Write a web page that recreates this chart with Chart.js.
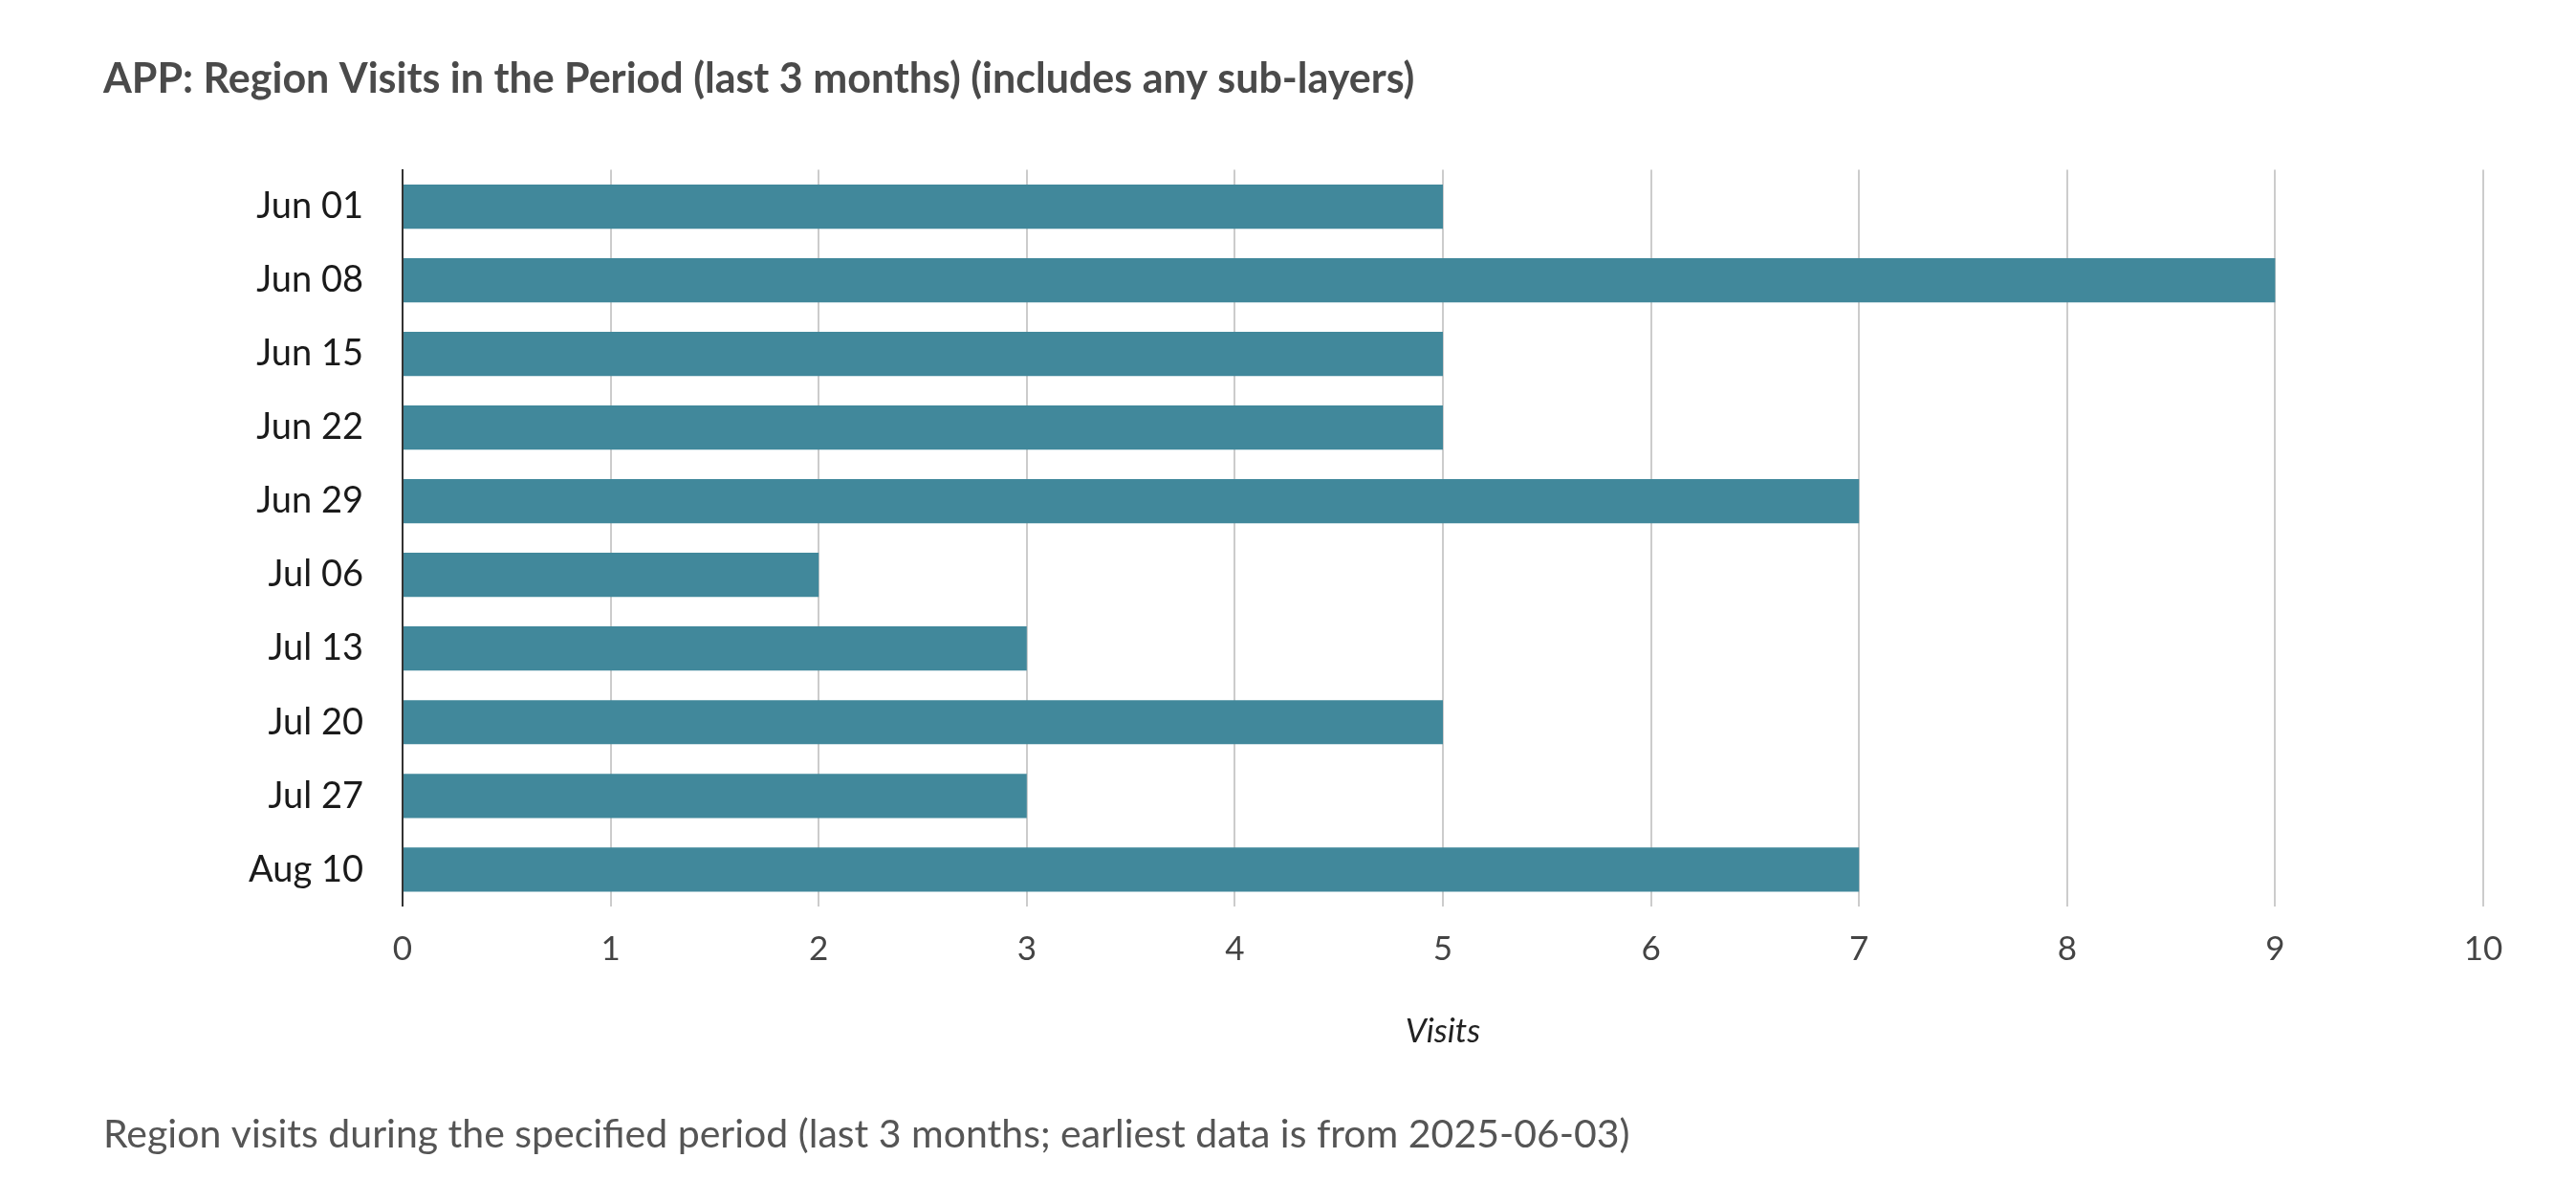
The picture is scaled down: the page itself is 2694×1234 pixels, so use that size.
<!DOCTYPE html>
<html>
<head>
<meta charset="utf-8">
<script src="https://cdn.jsdelivr.net/npm/chart.js@4"></script>
<style>
    html, body { margin: 0; padding: 0; background: #fff; }
    #wrap { width: 2694px; height: 1234px; position: relative; }
</style>
</head>
<body>
<div id="wrap"><canvas id="visitsChart"></canvas></div>
<script>
const weeks = ['Jun 01', 'Jun 08', 'Jun 15', 'Jun 22', 'Jun 29', 'Jul 06', 'Jul 13', 'Jul 20', 'Jul 27', 'Aug 10'];
const visits = [5, 9, 5, 5, 7, 2, 3, 5, 3, 7];
const xTicks = [0, 1, 2, 3, 4, 5, 6, 7, 8, 9, 10];

const titleText = 'APP: Region Visits in the Period (last 3 months) (includes any sub-layers)';
const footerText = 'Region visits during the specified period (last 3 months; earliest data is from 2025-06-03)';
const axisTitle = 'Visits';

const FONT = 'Lato, "Open Sans", sans-serif';

function initChart() {
    const ctx = document.getElementById('visitsChart').getContext('2d');

    window.myChart = new Chart(ctx, {
        type: 'bar',
        data: {
            labels: weeks,
            datasets: [
                {
                    label: axisTitle,
                    data: visits,
                    backgroundColor: '#41889b',
                    borderWidth: 0,
                    categoryPercentage: 1,
                    barPercentage: 0.6,
                },
            ],
        },
        options: {
            indexAxis: 'y',
            responsive: true,
            maintainAspectRatio: false,
            animation: false,
            devicePixelRatio: 1,
            layout: {
                padding: { left: 108, right: 97, top: 0, bottom: 0 },
            },
            scales: {
                x: {
                    min: 0,
                    max: 10,
                    afterBuildTicks: (scale) => {
                        scale.ticks = xTicks.map((v) => ({ value: v }));
                    },
                    grid: {
                        color: '#cccccc',
                        lineWidth: 2,
                        drawTicks: false,
                    },
                    border: { display: false },
                    ticks: {
                        color: '#444',
                        padding: 24,
                        font: { family: FONT, size: 35 },
                    },
                    title: {
                        display: true,
                        text: axisTitle,
                        color: '#222',
                        padding: { top: 20, bottom: 0 },
                        font: { family: FONT, size: 35, style: 'italic' },
                    },
                },
                y: {
                    grid: { display: false, drawTicks: false },
                    border: { display: true, color: '#333', width: 2 },
                    ticks: {
                        color: '#1a1a1a',
                        padding: 41,
                        font: { family: FONT, size: 38 },
                    },
                    afterFit: (scale) => {
                        scale.width = 313;
                    },
                },
            },
            plugins: {
                legend: { display: false },
                tooltip: { enabled: false },
                title: {
                    display: true,
                    text: titleText,
                    align: 'start',
                    color: '#4a4a4a',
                    padding: { top: 57, bottom: 69 },
                    font: { family: FONT, size: 43, weight: 'bold' },
                },
                subtitle: {
                    display: true,
                    text: footerText,
                    position: 'bottom',
                    align: 'start',
                    color: '#555',
                    padding: { top: 62, bottom: 23 },
                    font: { family: FONT, size: 41 },
                },
            },
        },
    });
}

document.addEventListener('DOMContentLoaded', initChart);
</script>
</body>
</html>
